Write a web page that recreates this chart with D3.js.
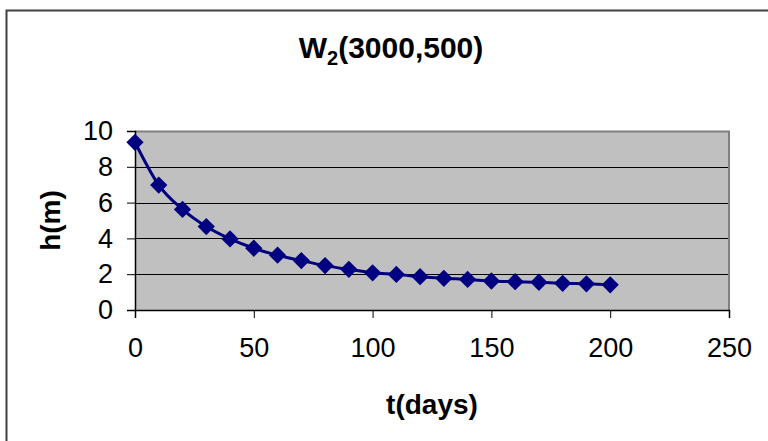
<!DOCTYPE html>
<html>
<head>
<meta charset="utf-8">
<script src="https://cdn.jsdelivr.net/npm/d3@7"></script>
<style>
html,body{margin:0;padding:0;background:#fff;}
svg{display:block;}
text{font-family:Arial,"Liberation Sans",sans-serif;}
</style>
</head>
<body>
<svg id="chart" width="768" height="441"></svg>
<script>
const tDays = [0,10,20,30,40,50,60,70,80,90,100,110,120,130,140,150,160,170,180,190,200];
const hValues = [9.37,6.98,5.62,4.66,3.97,3.45,3.06,2.76,2.48,2.27,2.08,1.99,1.86,1.77,1.71,1.62,1.58,1.55,1.49,1.46,1.41];
const xTicks = [0,50,100,150,200,250];
const yTicks = [0,2,4,6,8,10];
const titleMain = "W";
const titleSub = "2";
const titleRest = "(3000,500)";
const xLabel = "t(days)";
const yLabel = "h(m)";

const svg = d3.select("#chart");
const m = {left:135, right:729, top:131, bottom:310};
const FONT = "Arial,'Liberation Sans',sans-serif";

const x = d3.scaleLinear().domain([0,250]).range([m.left, m.right]);
const y = d3.scaleLinear().domain([0,10]).range([m.bottom, m.top]);

// outer chart border (only top and left visible)
svg.append("path").attr("d", `M6.5,441 L6.5,10.5 L768,10.5`)
  .attr("fill","none").attr("stroke","#404040").attr("stroke-width",2);

// plot area
svg.append("rect").attr("x",m.left).attr("y",m.top)
  .attr("width",m.right-m.left).attr("height",m.bottom-m.top)
  .attr("fill","#c0c0c0");

// gridlines
svg.append("g").selectAll("line").data(yTicks.filter(d=>d>0)).join("line")
  .attr("x1",m.left).attr("x2",m.right)
  .attr("y1",d=>Math.round(y(d))+0.5).attr("y2",d=>Math.round(y(d))+0.5)
  .attr("stroke","#000").attr("stroke-width",1);

// plot border right/top gray
svg.append("path").attr("d",`M${m.left},${m.top+0.5} L${m.right},${m.top+0.5} L${m.right},${m.bottom}`)
  .attr("fill","none").attr("stroke","#808080").attr("stroke-width",2);

// axes
const xAxis = d3.axisBottom(x).tickValues(xTicks).tickSize(8).tickPadding(20);
const gx = svg.append("g").attr("transform",`translate(0,${m.bottom})`).call(xAxis);
gx.attr("font-size",null).attr("font-family",null);
gx.selectAll("text").style("font-size","27px").attr("fill","#000").style("font-family",FONT);
gx.selectAll("line").attr("stroke","#000");
gx.select(".domain").attr("stroke","#000").attr("stroke-width",1.5);

const yAxis = d3.axisLeft(y).tickValues(yTicks).tickSize(8).tickPadding(14);
const gy = svg.append("g").attr("transform",`translate(${m.left},0)`).call(yAxis);
gy.attr("font-size",null).attr("font-family",null);
gy.selectAll("text").style("font-size","27px").attr("fill","#000").style("font-family",FONT);
gy.selectAll("line").attr("stroke","#000");
gy.select(".domain").attr("stroke","#000").attr("stroke-width",1.5);

// line
const data = tDays.map((t,i)=>({t, h:hValues[i]}));
svg.append("path").datum(data)
  .attr("d", d3.line().x(d=>x(d.t)).y(d=>y(d.h)).curve(d3.curveMonotoneX))
  .attr("fill","none").attr("stroke","#000080").attr("stroke-width",3);

// markers
svg.append("g").selectAll("path").data(data).join("path")
  .attr("transform",d=>`translate(${x(d.t)},${y(d.h)})`)
  .attr("d", d3.symbol().type(d3.symbolDiamond2).size(190))
  .attr("fill","#000080");

// title
const title = svg.append("text").attr("x",391).attr("y",58)
  .attr("text-anchor","middle").attr("font-weight","bold").style("font-size","30px").attr("fill","#000");
title.append("tspan").text(titleMain);
title.append("tspan").style("font-size","20px").attr("dy",7).text(titleSub);
title.append("tspan").attr("dy",-7).text(titleRest);

// axis labels
svg.append("text").attr("x",432).attr("y",414)
  .attr("text-anchor","middle").attr("font-weight","bold").style("font-size","28px").text(xLabel);
svg.append("text").attr("transform",`translate(60,${(m.top+m.bottom)/2}) rotate(-90)`)
  .attr("text-anchor","middle").attr("font-weight","bold").style("font-size","28px").text(yLabel);
</script>
</body>
</html>
